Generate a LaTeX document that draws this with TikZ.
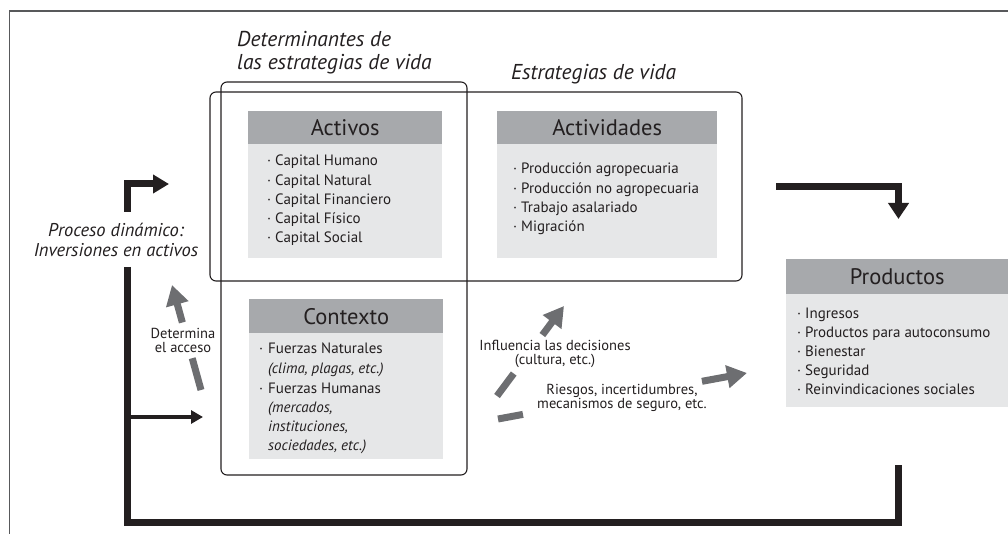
\documentclass[tikz,border=0pt]{standalone}
\usepackage{fontspec}
\setmainfont{PT Sans}
\usetikzlibrary{arrows.meta}
\definecolor{hdr}{HTML}{A7A9AC}
\definecolor{bdy}{HTML}{E6E7E8}
\definecolor{ink}{HTML}{231F20}
\definecolor{garrow}{HTML}{6D6E71}
\definecolor{framec}{HTML}{58595B}
\newcommand{\bul}[1]{\makebox[#1][l]{·}}
\begin{document}
\begin{tikzpicture}[x=1pt,y=-1pt,
  hdrbox/.style={fill=hdr, draw=none, inner sep=0, anchor=north west, text=ink, font=\fontsize{22.5}{26}\selectfont},
  bdybox/.style={fill=bdy, draw=none, inner sep=0, anchor=north west},
  item/.style={anchor=base west, inner sep=0, text=ink, font=\fontsize{15}{18}\selectfont},
  heading/.style={anchor=base west, inner sep=0, text=ink, font=\fontsize{21.5}{24}\selectfont\itshape},
  sidelabel/.style={inner sep=0, text=ink, align=center, font=\fontsize{18.5}{20}\selectfont\itshape},
  arrowlabel/.style={inner sep=0, text=ink, align=center, font=\fontsize{14.5}{14}\selectfont},
  grouprect/.style={draw=ink, line width=1.1pt, rounded corners=6pt},
  blackarrow/.style={draw=ink, line width=7pt, line join=miter},
  grayarrow/.style={draw=garrow, line width=7pt, -{Triangle[length=20pt,width=22pt]}}
]
\useasboundingbox (0,0) rectangle (1008,534);
% frame
\draw[framec, line width=1.5pt] (9.5,534) -- (9.5,11) -- (1008,11);

% headings
\node[heading] (det1) at (237,47) {Determinantes de};
\node[heading] (det2) at (237,70) {las estrategias de vida};
\node[heading] (est) at (511,80) {Estrategias de vida};
\node[sidelabel] (proc) at (116,240) {Proceso dinámico:\\Inversiones en activos};

% Activos
\node[hdrbox, minimum width=194pt, minimum height=33pt] (activos) at (248,111) {Activos};
\node[bdybox, minimum width=194pt, minimum height=114pt] (activosb) at (248,144) {};
\foreach \t [count=\i] in {Capital Humano, Capital Natural, Capital Financiero, Capital Físico, Capital Social}
  \node[item] (act\i) at (267,{166+19.2*(\i-1)}) {\bul{8pt}\t};

% Actividades
\node[hdrbox, minimum width=220pt, minimum height=33pt] (activ) at (497,111) {Actividades};
\node[bdybox, minimum width=220pt, minimum height=114pt] (activb) at (497,144) {};
\foreach \t [count=\i] in {Producción agropecuaria, Producción no agropecuaria, Trabajo asalariado, Migración}
  \node[item] (av\i) at (513,{174+19.3*(\i-1)}) {\bul{8pt}\t};

% Contexto
\node[hdrbox, minimum width=194pt, minimum height=34pt] (ctx) at (249,299) {Contexto};
\node[bdybox, minimum width=194pt, minimum height=126pt] (ctxb) at (249,333) {};
\node[item] (c1) at (259,353) {\bul{9pt}Fuerzas Naturales};
\node[item] (c2) at (268,373) {\textit{(clima, plagas, etc.)}};
\node[item] (c3) at (259,393) {\bul{9pt}Fuerzas Humanas};
\node[item] (c4) at (268,412) {\textit{(mercados,}};
\node[item] (c5) at (268,431) {\textit{instituciones,}};
\node[item] (c6) at (268,450) {\textit{sociedades, etc.)}};

% Productos
\node[hdrbox, minimum width=222pt, minimum height=35pt] (prod) at (786,259) {Productos};
\node[bdybox, minimum width=222pt, minimum height=113pt] (prodb) at (786,294) {};
\foreach \t [count=\i] in {Ingresos, Productos para autoconsumo, Bienestar, Seguridad, Reinvindicaciones sociales}
  \node[item] (p\i) at (797,{318+19*(\i-1)}) {\bul{8pt}\t};

% group outlines
\draw[grouprect] (221,82) rectangle (467,475);
\draw[grouprect] (210,92) rectangle (742,281);

% black arrows
\coordinate (a0) at (127.5,212);
\coordinate (a1) at (127.5,184);
\coordinate (a2) at (169,184);
\draw[blackarrow, -{Triangle[length=16pt,width=18pt]}] (a0) -- (a1) -- (a2);

\coordinate (b0) at (127.5,267);
\coordinate (b1) at (127.5,522);
\coordinate (b2) at (898.5,522);
\coordinate (b3) at (898.5,465);
\draw[blackarrow] (b0) -- (b1) -- (b2) -- (b3);

\coordinate (c0) at (127.5,417);
\coordinate (cE) at (203,417);
\draw[draw=ink, line width=4pt, -{Triangle[length=12pt,width=13pt]}] (c0) -- (cE);

\coordinate (d0) at (776,186.5);
\coordinate (d1) at (898.5,186.5);
\coordinate (d2) at (898.5,219);
\draw[blackarrow, -{Triangle[length=16pt,width=20pt]}] (d0) -- (d1) -- (d2);

% gray arrows
\coordinate (g1s) at (201,390);
\coordinate (g1e) at (172,285);
\draw[grayarrow, dash pattern=on 33pt off 37pt on 300pt] (g1s) -- (g1e);
\node[arrowlabel] (l1) at (183,340) {Determina\\el acceso};

\coordinate (g2s) at (497,396);
\coordinate (g2e) at (564,306);
\draw[grayarrow, dash pattern=on 28pt off 48pt on 300pt] (g2s) -- (g2e);
\node[arrowlabel] (l2) at (555,354) {Influencia las decisiones\\(cultura, etc.)};

\coordinate (g3s) at (498,419);
\coordinate (g3e) at (747,373);
\draw[grayarrow, dash pattern=on 25.4pt off 182pt on 300pt] (g3s) -- (g3e);
\node[arrowlabel] (l3) at (622,398) {Riesgos, incertidumbres,\\mecanismos de seguro, etc.};
\end{tikzpicture}
\end{document}
